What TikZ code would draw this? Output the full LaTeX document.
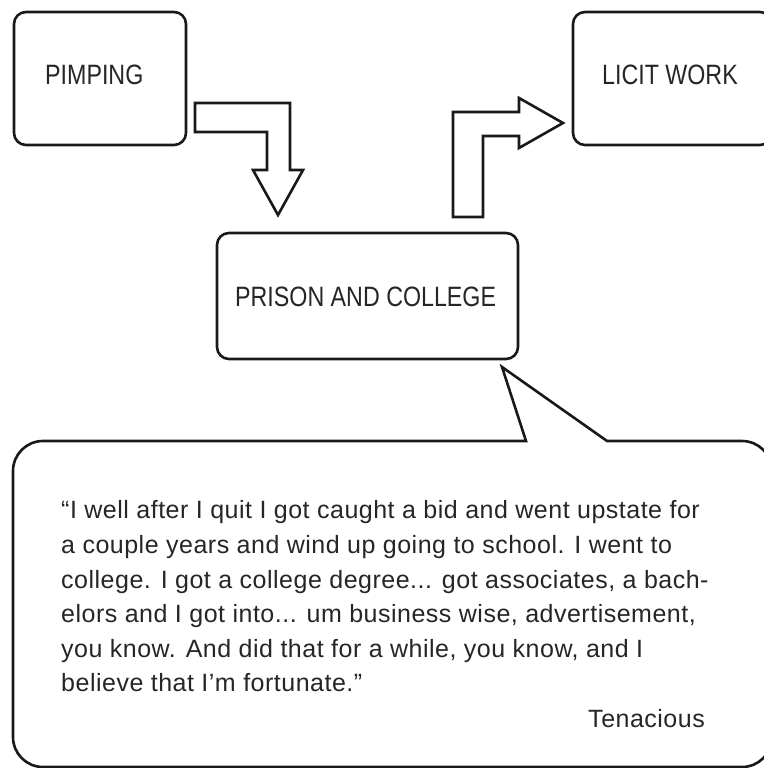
\documentclass[tikz,border=0pt]{standalone}
\usepackage{fontspec}
\setmainfont{Liberation Sans}
\newfontfamily\quotefont[LetterSpace=2]{Liberation Sans}
\newfontfamily\labelfont[FakeStretch=0.83]{Liberation Sans}
\begin{document}
\begin{tikzpicture}[x=1pt,y=1pt,
  line/.style={draw=black!90, line width=2.6pt},
  boxnode/.style={line, fill=white, rounded corners=12pt, inner sep=0pt, minimum width=#1},
  labeltext/.style={inner sep=0pt, anchor=base west, text=black!85, font=\labelfont\fontsize{28}{32}\selectfont},
  quotetext/.style={inner sep=0pt, anchor=base west, text=black!85, font=\quotefont\fontsize{25}{30}\selectfont},
  blockarrow/.style={line, fill=white, line join=miter}
]
\useasboundingbox (0,0) rectangle (763,768);
% boxes
\node[boxnode=172pt, minimum height=133pt] (pimping) at (100,689.5) {};
\node[boxnode=199pt, minimum height=133pt] (licit) at (672.5,689.5) {};
\node[boxnode=301pt, minimum height=126pt] (prison) at (367.5,472) {};
% labels
\node[labeltext] (lpimping) at (45,683) {PIMPING};
\node[labeltext] (llicit) at (602,683) {LICIT WORK};
\node[labeltext] (lprison) at (235,461) {PRISON AND COLLEGE};
% block arrows
\draw[blockarrow] (195,665) -- (290,665) -- (290,598) -- (303,598) -- (278,553)
  -- (253,598) -- (267,598) -- (267,636) -- (195,636) -- cycle;
\draw[blockarrow] (453,551) -- (453,656) -- (519,656) -- (519,670) -- (563,645)
  -- (519,620) -- (519,632) -- (483,632) -- (483,551) -- cycle;
% speech bubble
\draw[line, fill=white, line join=miter]
  (13,31) -- (13,297) arc[start angle=180, end angle=90, radius=30]
  -- (526,327) -- (502,401) -- (607,327) -- (742,327)
  arc[start angle=90, end angle=0, radius=30] -- (772,31)
  arc[start angle=0, end angle=-90, radius=30] -- (43,1)
  arc[start angle=270, end angle=180, radius=30] -- cycle;
% quote
\node[quotetext] (q1) at (61,249) {“I well after I quit I got caught a bid and went upstate for};
\node[quotetext] (q2) at (61,214.4) {a couple years and wind up going to school. I went to};
\node[quotetext] (q3) at (61,179.8) {college. I got a college degree... got associates, a bach-};
\node[quotetext] (q4) at (61,145.2) {elors and I got into... um business wise, advertisement,};
\node[quotetext] (q5) at (61,110.6) {you know. And did that for a while, you know, and I};
\node[quotetext] (q6) at (61,76) {believe that I’m fortunate.”};
\node[quotetext, anchor=base east] (author) at (705,40) {Tenacious};
\end{tikzpicture}
\end{document}
